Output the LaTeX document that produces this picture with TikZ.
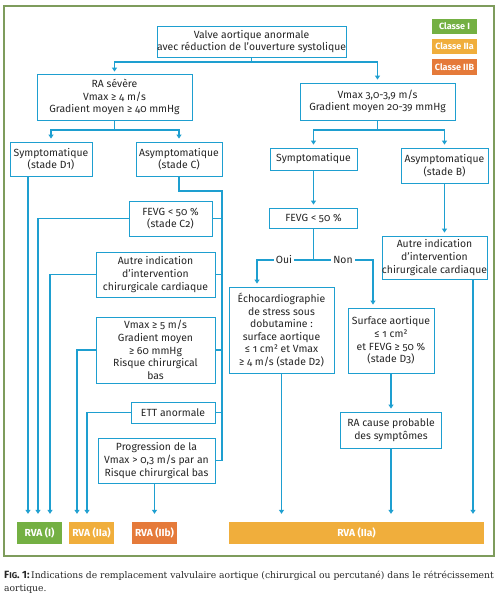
\documentclass[tikz,border=0pt]{standalone}
\usepackage{fontspec}
\setmainfont{Fira Sans}[Numbers=OldStyle]
\newfontfamily\capserif{DejaVu Serif}
\usetikzlibrary{arrows.meta}
\definecolor{lineblue}{HTML}{1E9FD0}
\definecolor{frameg}{HTML}{7E9C5C}
\definecolor{cI}{HTML}{74B043}
\definecolor{cIIa}{HTML}{F0AE3C}
\definecolor{cIIb}{HTML}{E57A3A}
\definecolor{txt}{HTML}{262626}
\begin{document}
\begin{tikzpicture}[x=1pt,y=-1pt,
  box/.style={draw=lineblue, line width=0.9pt, fill=white, align=center, inner sep=0pt,
    font=\fontsize{10.4}{12.6}\selectfont, text=txt},
  cls/.style={fill=#1, text=white, font=\bfseries\fontsize{10.2}{11}\selectfont, inner sep=0pt},
  lgd/.style={cls=#1, minimum width=45pt, font=\bfseries\fontsize{9}{10}\selectfont},
  conn/.style={draw=lineblue, line width=1.1pt},
  arr/.style={conn, -{Triangle[width=5pt,length=4pt]}, shorten >=3pt},
  arrb/.style={arr, shorten >=8pt},
  lbl/.style={fill=white, inner sep=2pt, text=txt, font=\fontsize{10.4}{12.6}\selectfont}]
\useasboundingbox (0,0) rectangle (496,600);
% frame
\draw[frameg, line width=1.3pt] (4,6) rectangle (494,556);

% legend
\node[lgd=cI, minimum height=15pt] (lI) at (454.5,26.5) {Classe I};
\node[lgd=cIIa, minimum height=15pt] (lIIa) at (454.5,46.5) {Classe IIa};
\node[lgd=cIIb, minimum height=16pt] (lIIb) at (454.5,67) {Classe IIB};

% boxes
\node[box, minimum width=189pt, minimum height=31pt] (top) at (251.5,41.5) {Valve aortique anormale\\avec réduction de l’ouverture systolique};
\node[box, minimum width=155pt, minimum height=46pt] (ras) at (114.5,97) {RA sévère\\Vmax ≥ 4 m/s\\Gradient moyen ≥ 40 mmHg};
\node[box, minimum width=82pt, minimum height=34pt] (symD1) at (51,159) {Symptomatique\\(stade D1)};
\node[box, minimum width=86pt, minimum height=34pt] (asymC) at (179,159) {Asymptomatique\\(stade C)};
\node[box, minimum width=83pt, minimum height=35pt] (fevgC2) at (170.5,218.5) {FEVG < 50 \%\\(stade C2)};
\node[box, minimum width=119pt, minimum height=45pt] (autreL) at (155.5,274.5) {Autre indication\\d’intervention\\chirurgicale cardiaque};
\node[box, minimum width=119pt, minimum height=66pt] (vmax5) at (155.5,350) {Vmax ≥ 5 m/s\\Gradient moyen\\≥ 60 mmHg\\Risque chirurgical\\bas};
\node[box, minimum width=84pt, minimum height=21pt] (ett) at (173,412.5) {ETT anormale};
\node[box, minimum width=117pt, minimum height=45pt] (prog) at (156.5,460.5) {Progression de la\\Vmax > 0,3 m/s par an\\Risque chirurgical bas};

\node[box, minimum width=155pt, minimum height=37pt] (vmax3) at (377.5,101.5) {Vmax 3,0-3,9 m/s\\Gradient moyen 20-39 mmHg};
\node[box, minimum width=87pt, minimum height=22pt] (sympR) at (313.5,159) {Symptomatique};
\node[box, minimum width=87pt, minimum height=35pt] (asymB) at (444.5,165.5) {Asymptomatique\\(stade B)};
\node[box, minimum width=88pt, minimum height=20pt] (fevgR) at (313.5,218) {FEVG < 50 \%};
\node[box, minimum width=105pt, minimum height=43pt] (autreR) at (434.5,257.5) {Autre indication\\d’intervention\\chirurgicale cardiaque};
\node[box, minimum width=105pt, minimum height=86pt] (echo) at (281.5,330) {Échocardiographie\\de stress sous\\dobutamine :\\surface aortique\\≤ 1 cm² et Vmax\\≥ 4 m/s (stade D2)};
\node[box, minimum width=86pt, minimum height=65pt] (surf) at (391,340.5) {Surface aortique\\≤ 1 cm²\\et FEVG ≥ 50 \%\\(stade D3)};
\node[box, minimum width=101pt, minimum height=36pt] (racause) at (391,430) {RA cause probable\\des symptômes};

% outcome boxes
\node[cls=cI, minimum width=45pt, minimum height=22pt] (rvaI) at (39.5,533) {RVA (I)};
\node[cls=cIIa, minimum width=45pt, minimum height=22pt] (rvaIIa) at (91.5,533) {RVA (IIa)};
\node[cls=cIIb, minimum width=45pt, minimum height=22pt] (rvaIIb) at (154.5,533) {RVA (IIb)};
\node[cls=cIIa, minimum width=255pt, minimum height=22pt] (rvaBig) at (356.5,533) {RVA (IIa)};

% lane coordinates
\coordinate (x1) at (28,0);
\coordinate (x2) at (38,0);
\coordinate (x3) at (50,0);
\coordinate (x4) at (77,0);
\coordinate (x5) at (87,0);
\coordinate (sp) at (222,0);
\coordinate (spTop) at (222,191);
\coordinate (j1) at (251.5,62);
\coordinate (j2) at (114.5,130);
\coordinate (j3) at (377.5,130);
\coordinate (j4) at (313.5,260);
\coordinate (xo) at (257,0);
\coordinate (xn) at (373,0);
\coordinate (xr) at (473,0);

% top splits
\draw[conn] (top.south) -- (j1);
\draw[arr, shorten >=2pt] (j1) -| (ras.north);
\draw[arr] (j1) -| (vmax3.north);
\draw[conn] (ras.south) -- (j2);
\draw[arr] (j2) -| (symD1.north);
\draw[arr] (j2) -| (asymC.north);

% left branch
\draw[arrb] (x1 |- symD1.south) -- (x1 |- rvaI.north);
\draw[conn] (asymC.south) |- (spTop) -- (sp |- prog.east);
\draw[conn] (fevgC2.east) -- (sp |- fevgC2.east);
\draw[conn] (autreL.east) -- (sp |- autreL.east);
\draw[conn] (vmax5.east) -- (sp |- vmax5.east);
\draw[conn] (ett.east) -- (sp |- ett.east);
\draw[conn] (prog.east) -- (sp |- prog.east);
\draw[arrb] (fevgC2.west) -| (x2 |- rvaI.north);
\draw[arrb] (autreL.west) -| (x3 |- rvaI.north);
\draw[arrb] (vmax5.west) -| (x4 |- rvaIIa.north);
\draw[arrb] (ett.west) -| (x5 |- rvaIIa.north);
\draw[arrb] (rvaIIb.north |- prog.south) -- (rvaIIb.north);

% right branch
\draw[conn] (vmax3.south) -- (j3);
\draw[arr] (j3) -| (sympR.north);
\draw[arr] (j3) -| (asymB.north);
\draw[arr] (sympR.south) -- (fevgR.north);
\draw[arr] (asymB.south) -- (asymB.south |- autreR.north);
\draw[conn] (fevgR.south) -- (j4);
\draw[arr] (j4) -| (xo |- echo.north);
\draw[arr] (j4) -| (xn |- surf.north);
\node[lbl] (oui) at (284,260) {Oui};
\node[lbl] (non) at (343,260) {Non};
\draw[arr] (surf.south) -- (racause.north);
\draw[arrb] (echo.south) -- (echo.south |- rvaBig.north);
\draw[arrb] (racause.south) -- (racause.south |- rvaBig.north);
\draw[arrb] (xr |- autreR.south) -- (xr |- rvaBig.north);

% caption
\node[anchor=north west, align=left, inner sep=0pt, text=txt,
  font=\capserif\fontsize{9.2}{12.5}\selectfont] (cap) at (4,571)
  {{\fontspec{Fira Sans}\bfseries\fontsize{10.5}{12.5}\selectfont F{\fontsize{8.4}{10}\selectfont IG}. 1:}\,Indications de remplacement valvulaire aortique (chirurgical ou percutané) dans le rétrécissement\\aortique.};
\end{tikzpicture}
\end{document}
